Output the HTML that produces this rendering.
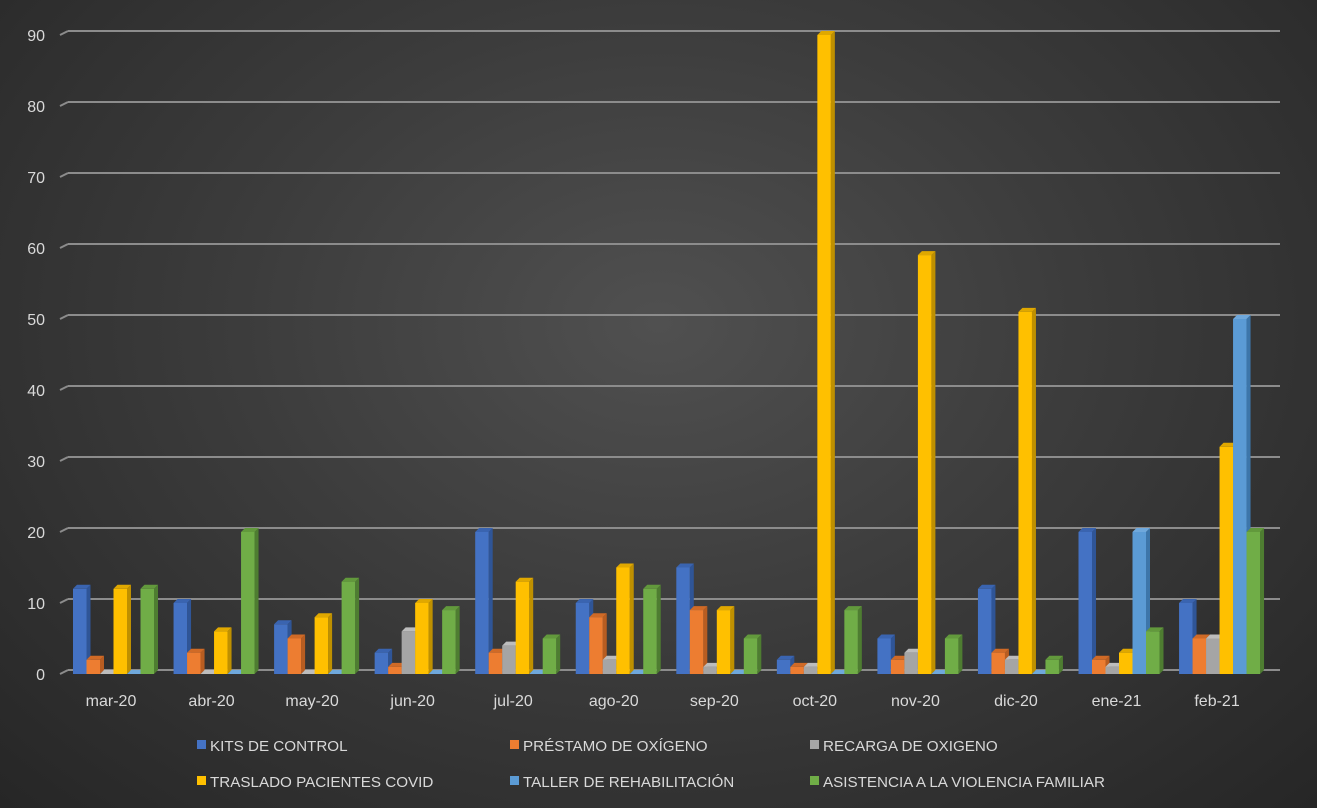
<!DOCTYPE html>
<html><head><meta charset="utf-8"><style>
body{margin:0;width:1317px;height:808px;overflow:hidden;background:radial-gradient(ellipse at 50% 40%,#505050 0%,#3c3c3c 45%,#262626 100%);font-family:"Liberation Sans",sans-serif;}
svg{position:absolute;left:0;top:0}
</style></head><body>
<svg id="chart" width="1317" height="808"></svg>
<script>
const categories=["mar-20","abr-20","may-20","jun-20","jul-20","ago-20","sep-20","oct-20","nov-20","dic-20","ene-21","feb-21"];
const kits=[12,10,7,3,20,10,15,2,5,12,20,10];
const prestamo=[2,3,5,1,3,8,9,1,2,3,2,5];
const recarga=[0,0,0,6,4,2,1,1,3,2,1,5];
const traslado=[12,6,8,10,13,15,9,90,59,51,3,32];
const taller=[0,0,0,0,0,0,0,0,0,0,20,50];
const asistencia=[12,20,13,9,5,12,5,9,5,2,6,20];
const yTicks=[0,10,20,30,40,50,60,70,80,90];
const seriesNames=["KITS DE CONTROL","PRÉSTAMO DE OXÍGENO","RECARGA DE OXIGENO","TRASLADO PACIENTES COVID","TALLER DE REHABILITACIÓN","ASISTENCIA A LA VIOLENCIA FAMILIAR"];
const series=[kits,prestamo,recarga,traslado,taller,asistencia];
const cols=[["#4472c4","#2f5597","#3a64b0"],["#ed7d31","#b85d21","#d06a26"],["#a5a5a5","#7c7c7c","#bdbdbd"],["#ffc000","#bf9000","#e0a800"],["#5b9bd5","#3d76aa","#6fa8dc"],["#70ad47","#4e7d31","#62993c"]];
const svg=document.getElementById('chart');const NS="http://www.w3.org/2000/svg";
function mk(t,a,p){const e=document.createElementNS(NS,t);for(const k in a)e.setAttribute(k,a[k]);(p||svg).appendChild(e);return e;}
const y=v=>674-v*7.1;
const xc=i=>111+i*100.55;
yTicks.forEach(t=>{
 const l=mk('line',{x1:68,x2:1280,y1:y(t)-4,y2:y(t)-4,stroke:'#8c8c8c','stroke-width':2});
 
 const s=mk('line',{x1:60,x2:68,y1:y(t),y2:y(t)-4,stroke:'#8c8c8c','stroke-width':2});
 
 const tx=mk('text',{x:45,y:y(t)+6,'text-anchor':'end',fill:'#d9d9d9','font-size':16});tx.textContent=t;
 
});
categories.forEach((c,i)=>{
 const tx=mk('text',{x:xc(i),y:706,'text-anchor':'middle',fill:'#d9d9d9','font-size':16});tx.textContent=c;
 
 series.forEach((s,j)=>{
  const v=s[i];const x0=xc(i)-38+j*13.5,w=13.5,d=4;const top=y(v),b=674;
  const g=mk('g',{});
  mk('polygon',{points:`${x0+w},${top} ${x0+w+d},${top-4} ${x0+w+d},${b-4} ${x0+w},${b}`,fill:cols[j][1]},g);
  mk('polygon',{points:`${x0},${top} ${x0+d},${top-4} ${x0+w+d},${top-4} ${x0+w},${top}`,fill:cols[j][2]},g);
  mk('rect',{x:x0,y:top,width:w,height:Math.max(0,b-top),fill:cols[j][0]},g);
 });
});
const lx=[197,510,810],ly=[751,787];
seriesNames.forEach((n,j)=>{
 const x=lx[j%3],yy=ly[Math.floor(j/3)];
 const g=mk('g',{});
 mk('rect',{x:x,y:yy-11,width:9,height:9,fill:cols[j][0]},g);
 const t=mk('text',{x:x+13,y:yy,fill:'#d9d9d9','font-size':15.2},g);t.textContent=n;
});
</script>
</body></html>
